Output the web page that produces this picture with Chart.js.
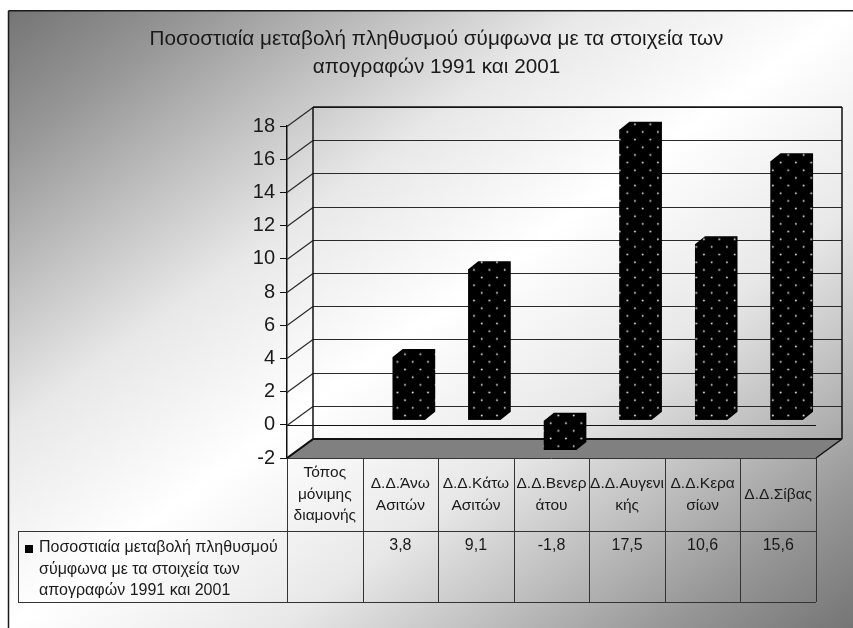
<!DOCTYPE html>
<html>
<head>
<meta charset="utf-8">
<style>
  html, body { margin: 0; padding: 0; background: #fff; }
  canvas { display: block; }
</style>
<script src="https://cdn.jsdelivr.net/npm/chart.js@4/dist/chart.umd.min.js"></script>
</head>
<body>
<canvas id="popChart" width="853" height="628"></canvas>
<script>
const titleLines = ['Ποσοστιαία μεταβολή πληθυσμού σύμφωνα με τα στοιχεία των', 'απογραφών 1991 και 2001'];
const categories = ['Τόπος μόνιμης διαμονής', 'Δ.Δ.Άνω Ασιτών', 'Δ.Δ.Κάτω Ασιτών', 'Δ.Δ.Βενεράτου', 'Δ.Δ.Αυγενικής', 'Δ.Δ.Κερασίων', 'Δ.Δ.Σίβας'];
const headerLines = [
    ['Τόπος', 'μόνιμης', 'διαμονής'],
    ['Δ.Δ.Άνω', 'Ασιτών'],
    ['Δ.Δ.Κάτω', 'Ασιτών'],
    ['Δ.Δ.Βενερ', 'άτου'],
    ['Δ.Δ.Αυγενι', 'κής'],
    ['Δ.Δ.Κερα', 'σίων'],
    ['Δ.Δ.Σίβας']
];
const seriesName = ['Ποσοστιαία μεταβολή πληθυσμού', 'σύμφωνα με τα στοιχεία των', 'απογραφών 1991 και 2001'];
const values = [null, 3.8, 9.1, -1.8, 17.5, 10.6, 15.6];

const FONT = '"Liberation Sans", Arial, sans-serif';
const depth = { wallX: 26, wallY: 19, barX: 10, barY: 8, shiftX: 8.6, shiftY: -4.6 };

// dotted black fill of the bars
function makeDots() {
    let tile = document.createElement('canvas');
    tile.width = 16;
    tile.height = 16;
    let t = tile.getContext('2d');
    t.fillStyle = '#000';
    t.fillRect(0, 0, 16, 16);
    t.fillStyle = '#e4e4e4';
    [[5.8, 14.6], [13.8, 6.6]].forEach(function (p) {
        t.beginPath();
        t.arc(p[0], p[1], 1, 0, Math.PI * 2);
        t.fill();
    });
    let pattern = t.createPattern(tile, 'repeat');
    pattern.setTransform(new DOMMatrix().scale(0.958));
    return pattern;
}
const dots = makeDots();

function drawPoly(ctx, pts) {
    ctx.beginPath();
    pts.forEach(function (p, i) {
        if (i === 0) ctx.moveTo(p[0], p[1]);
        else ctx.lineTo(p[0], p[1]);
    });
    ctx.closePath();
    ctx.fill();
}

function line(ctx, x1, y1, x2, y2) {
    ctx.beginPath();
    ctx.moveTo(x1, y1);
    ctx.lineTo(x2, y2);
    ctx.stroke();
}

const sceneryPlugin = {
    id: 'scenery',
    beforeDraw: function (chart) {
        let ctx = chart.ctx;
        let x0 = 9, y0 = 11, w = chart.width - x0, h = chart.height - y0;
        // grey corners top-left and bottom-right, white along the other diagonal
        let cx = x0 + w / 2, cy = y0 + h / 2;
        let len = Math.hypot(w, h);
        let nx = h / len, ny = w / len;
        let reach = (w / 2) * nx + (h / 2) * ny;
        let grad = ctx.createLinearGradient(cx - nx * reach, cy - ny * reach, cx + nx * reach, cy + ny * reach);
        grad.addColorStop(0, '#757575');
        grad.addColorStop(0.11, '#969696');
        grad.addColorStop(0.24, '#c5c5c5');
        grad.addColorStop(0.34, '#e8e8e8');
        grad.addColorStop(0.5, '#ffffff');
        grad.addColorStop(0.66, '#e8e8e8');
        grad.addColorStop(0.76, '#c5c5c5');
        grad.addColorStop(0.89, '#969696');
        grad.addColorStop(1, '#757575');
        ctx.save();
        ctx.fillStyle = grad;
        ctx.fillRect(x0, y0, w, h);
        ctx.strokeStyle = '#1a1a1a';
        ctx.lineWidth = 1.5;
        line(ctx, 8.5, chart.height, 8.5, 10.75);
        line(ctx, 8.5, 10.75, chart.width, 10.75);
        ctx.restore();
    },
    beforeDatasetsDraw: function (chart) {
        let ctx = chart.ctx;
        let a = chart.chartArea;
        let y = chart.scales.y;
        let dx = depth.wallX, dy = depth.wallY;
        ctx.save();
        // floor
        ctx.fillStyle = '#808080';
        drawPoly(ctx, [[a.left, a.bottom], [a.left + dx, a.bottom - dy], [a.right + dx, a.bottom - dy], [a.right, a.bottom]]);
        // gridlines on back and side wall
        ctx.strokeStyle = '#2a2a2a';
        ctx.lineWidth = 1.2;
        y.ticks.forEach(function (t) {
            let py = Math.round(y.getPixelForValue(t.value)) + 0.5;
            line(ctx, a.left, py, a.left + dx, py - dy);
            line(ctx, a.left + dx, py - dy, a.right + dx, py - dy);
        });
        // wall edges
        ctx.strokeStyle = '#111';
        ctx.lineWidth = 1.5;
        line(ctx, a.left + dx, a.top - dy, a.left + dx, a.bottom - dy);
        line(ctx, a.left + dx, a.top - dy, a.right + dx, a.top - dy);
        line(ctx, a.right + dx, a.top - dy, a.right + dx, a.bottom - dy);
        line(ctx, a.right + dx, a.bottom - dy, a.right, a.bottom);
        ctx.lineWidth = 2;
        line(ctx, a.left + dx, a.bottom - dy, a.right + dx, a.bottom - dy);
        line(ctx, a.left, a.bottom, a.left + dx, a.bottom - dy);
        // axis line at zero on the front plane
        ctx.lineWidth = 1;
        ctx.strokeStyle = '#111';
        let zero = Math.round(y.getPixelForValue(0)) + 0.5;
        line(ctx, a.left, zero, a.right, zero);
        ctx.restore();

        // bars stand in the middle of the depth
        ctx.save();
        ctx.translate(depth.shiftX, depth.shiftY);
    },
    afterDatasetDraw: function (chart, args) {
        let ctx = chart.ctx;
        ctx.fillStyle = dots;
        args.meta.data.forEach(function (bar, i) {
            if (values[i] === null) return;
            let x0 = bar.x - bar.width / 2, x1 = bar.x + bar.width / 2;
            let top = Math.min(bar.y, bar.base), bottom = Math.max(bar.y, bar.base);
            let bx = depth.barX, by = depth.barY;
            // whole outline in one go so no seam shows between the faces
            drawPoly(ctx, [[x0, top], [x0 + bx, top - by], [x1 + bx, top - by], [x1 + bx, bottom - by], [x1, bottom], [x0, bottom]]);
        });
    },
    afterDatasetsDraw: function (chart) {
        let ctx = chart.ctx;
        ctx.restore();

        let a = chart.chartArea;
        let colW = (a.right - a.left) / categories.length;
        let headTop = a.bottom, headBottom = 531, rowBottom = 602, rowLeft = 18;
        ctx.save();
        ctx.strokeStyle = '#333';
        ctx.lineWidth = 1;
        line(ctx, a.left, headTop + 0.5, a.right, headTop + 0.5);
        line(ctx, rowLeft, headBottom + 0.5, a.right, headBottom + 0.5);
        line(ctx, rowLeft, rowBottom + 0.5, a.right, rowBottom + 0.5);
        line(ctx, rowLeft + 0.5, headBottom, rowLeft + 0.5, rowBottom);
        for (let i = 0; i <= categories.length; i++) {
            let px = Math.round(a.left + i * colW) + 0.5;
            line(ctx, px, headTop, px, rowBottom);
        }
        ctx.fillStyle = '#1a1a1a';
        ctx.textBaseline = 'middle';
        ctx.textAlign = 'center';
        headerLines.forEach(function (lines, i) {
            let px = a.left + (i + 0.5) * colW;
            let startY = (headTop + headBottom) / 2 - (lines.length - 1) * 21.5 / 2;
            ctx.font = '15.5px ' + FONT;
            lines.forEach(function (txt, j) {
                ctx.fillText(txt, px, startY + j * 21.5);
            });
            if (values[i] !== null) {
                ctx.font = '16px ' + FONT;
                ctx.fillText(String(values[i]).replace('.', ','), px, 546);
            }
        });
        ctx.textAlign = 'left';
        ctx.font = '16px ' + FONT;
        seriesName.forEach(function (txt, j) {
            ctx.fillText(txt, 39, 548 + j * 21.5);
        });
        ctx.fillStyle = '#000';
        ctx.fillRect(25, 545, 8, 8);
        ctx.restore();
    }
};

let ctx = document.getElementById('popChart').getContext('2d');

let popChart = new Chart(ctx, {
    type: 'bar',
    data: {
        labels: categories,
        datasets: [{
            label: seriesName.join(' '),
            data: values,
            backgroundColor: dots,
            borderWidth: 0,
            categoryPercentage: 1,
            barPercentage: 0.43
        }]
    },
    options: {
        responsive: false,
        animation: false,
        layout: {
            padding: { top: 25, left: 57, right: 37, bottom: 170 }
        },
        plugins: {
            legend: { display: false },
            tooltip: { enabled: false },
            title: {
                display: true,
                text: titleLines,
                color: '#1a1a1a',
                font: { family: FONT, size: 20.7, weight: 'normal', lineHeight: 28 / 20.7 },
                padding: { top: 0, bottom: 45 }
            }
        },
        scales: {
            x: {
                display: false
            },
            y: {
                min: -2,
                max: 18,
                afterFit: function (scale) { scale.width = 230; },
                ticks: {
                    stepSize: 2,
                    color: '#1a1a1a',
                    padding: 5,
                    font: { family: FONT, size: 20 }
                },
                grid: {
                    drawOnChartArea: false,
                    color: '#111',
                    tickLength: 7
                },
                border: { color: '#111', width: 1.5 }
            }
        }
    },
    plugins: [sceneryPlugin]
});
</script>
</body>
</html>
